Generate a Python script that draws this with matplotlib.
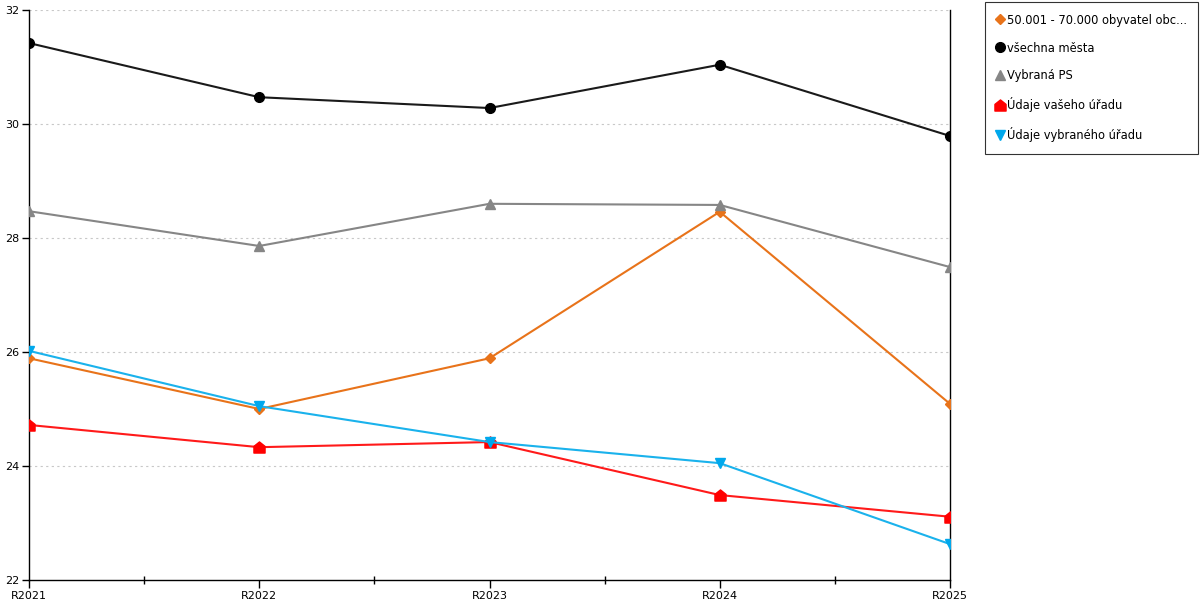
import matplotlib.pyplot as plt
from matplotlib.path import Path

years = ['R2021', 'R2022', 'R2023', 'R2024', 'R2025']

orange = [25.89, 25.00, 25.89, 28.46, 25.09]
black = [31.42, 30.47, 30.28, 31.04, 29.79]
gray = [28.47, 27.86, 28.60, 28.58, 27.49]
red = [24.72, 24.33, 24.42, 23.49, 23.11]
blue = [26.02, 25.05, 24.42, 24.05, 22.63]

labels = ['50.001 - 70.000 obyvatel obc...', 'všechna města', 'Vybraná PS',
          'Údaje vašeho úřadu', 'Údaje vybraného úřadu']

# house shaped marker
house = Path([(-1, -1), (1, -1), (1, 0.2), (0, 1), (-1, 0.2), (-1, -1)],
             [Path.MOVETO, Path.LINETO, Path.LINETO, Path.LINETO, Path.LINETO,
              Path.CLOSEPOLY])

plt.rcParams['font.family'] = ['DejaVu Sans']

fig = plt.figure(figsize=(12, 6), dpi=100)
ax = fig.add_axes([29 / 1200, 20 / 600, 921 / 1200, 570 / 600])

x = range(len(years))
ax.plot(x, orange, color='#e8731a', lw=1.5, marker='D', ms=5, label=labels[0], zorder=3)
ax.plot(x, black, color='#1a1a1a', lw=1.5, marker='o', ms=7, mfc='black', mec='black', label=labels[1], zorder=3)
ax.plot(x, gray, color='#868686', lw=1.5, marker='^', ms=7, label=labels[2], zorder=3)
ax.plot(x, red, color='#ff1a1a', lw=1.5, marker=house, ms=8, mfc='#ff0000', mec='#ff0000', label=labels[3], zorder=3)
ax.plot(x, blue, color='#1ab2ec', lw=1.5, marker='v', ms=7, mfc='#00a8ec', mec='#00a8ec', label=labels[4], zorder=3)

ax.set_xlim(0, 4)
ax.set_ylim(22, 32)
ax.set_yticks([22, 24, 26, 28, 30, 32])
ax.set_xticks(list(x))
ax.set_xticklabels(years)
ax.set_xticks([0.5, 1.5, 2.5, 3.5], minor=True)
ax.tick_params(axis='x', which='major', length=6, width=1, labelsize=8, pad=2)
ax.tick_params(axis='x', which='minor', length=6, width=1, direction='inout')
ax.tick_params(axis='y', length=5, width=1, labelsize=8, pad=2)

for v in [24, 26, 28, 30, 32]:
    ax.axhline(v, color='#c8c8c8', lw=0.8, ls=(0, (2, 3)), zorder=1)

ax.spines['top'].set_visible(False)
for s in ['left', 'bottom', 'right']:
    ax.spines[s].set_color('black')
    ax.spines[s].set_linewidth(1)
ax.set_facecolor('white')

leg = fig.legend(loc='upper left', bbox_to_anchor=(985 / 1200, 1 - 2 / 600),
                 fontsize=8.3, frameon=True, fancybox=False, edgecolor='black',
                 handlelength=0.6, handletextpad=0.3, labelspacing=1.3,
                 borderpad=1.0, borderaxespad=0)
leg.get_frame().set_linewidth(0.8)
for h in leg.get_lines():
    h.set_linestyle('None')

fig.savefig('out.png', dpi=100)
